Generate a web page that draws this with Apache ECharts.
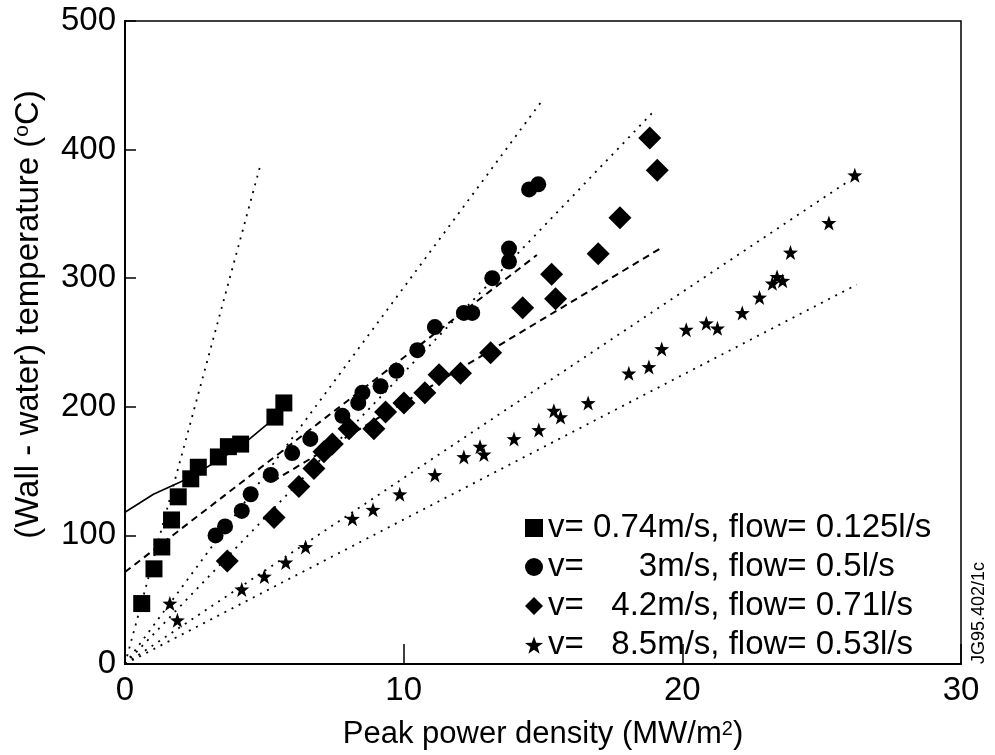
<!DOCTYPE html>
<html>
<head>
<meta charset="utf-8">
<script src="https://cdn.jsdelivr.net/npm/echarts@6/dist/echarts.min.js"></script>
<style>
  html, body { margin: 0; padding: 0; background: #fff; }
  #chart { width: 995px; height: 755px; }
</style>
</head>
<body>
<div id="chart"></div>
<script>
// measured points [power density, temperature]
var squarePts = [[0.60, 47], [1.04, 74], [1.32, 91], [1.67, 112], [1.91, 130], [2.36, 144],
  [2.63, 153], [3.35, 161], [3.71, 169], [4.15, 171], [5.38, 192], [5.70, 203]];
var circlePts = [[3.25, 100], [3.59, 107], [4.19, 119], [4.51, 132], [5.23, 147], [6.00, 164],
  [6.65, 175], [7.80, 193], [8.37, 203], [8.52, 211], [9.17, 216], [9.74, 228], [10.49, 244],
  [11.12, 262], [12.16, 273], [12.46, 273], [13.18, 300], [13.78, 313], [13.78, 323],
  [14.50, 369], [14.83, 373]];
var diamondPts = [[3.67, 80], [5.35, 114], [6.24, 138], [6.78, 152], [7.14, 165], [7.44, 171],
  [8.04, 183], [8.93, 183], [9.35, 196], [10.01, 203], [10.76, 211], [11.27, 225], [12.04, 226],
  [13.12, 242], [14.27, 277], [15.31, 303], [15.45, 284], [16.98, 319], [17.76, 347],
  [18.83, 409], [19.10, 384]];
var starPts = [[1.61, 47], [1.88, 34], [4.19, 58], [5.00, 68], [5.77, 79], [6.48, 91],
  [8.16, 113], [8.90, 120], [9.86, 132], [11.12, 147], [12.16, 161], [12.74, 169], [12.88, 163],
  [13.96, 175], [14.85, 182], [15.39, 197], [15.63, 192], [16.62, 203], [18.08, 226],
  [18.80, 231], [19.26, 245], [20.14, 260], [20.86, 265], [21.26, 261], [22.15, 273],
  [22.77, 285], [23.23, 296], [23.40, 301], [23.60, 298], [23.88, 320], [25.26, 343], [26.19, 380]];

// fitted curves
var squareFit = [[0, 118], [1.02, 132], [2.34, 145], [4.14, 169], [5.58, 195]];
var circleFit = [[0, 71.5], [14.78, 318]];
var diamondFit = [[5.3, 142], [19.2, 323]];
var dotLines = [
  [[0, 0], [4.86, 388]],
  [[0, 0], [14.93, 437]],
  [[0, 0], [19.03, 431]],
  [[0, 0], [26.0, 376]],
  [[0, 0], [26.26, 295]]
];

var names = ['v= 0.74m/s, flow= 0.125l/s', 'v=      3m/s, flow= 0.5l/s',
  'v=   4.2m/s, flow= 0.71l/s', 'v=   8.5m/s, flow= 0.53l/s'];
var xTicks = [0, 10, 20, 30];
var yTicks = [0, 100, 200, 300, 400, 500];

var FONT = 'Liberation Sans';
var starPath = 'path://M50,0 L62,34 L98,35 L69,57 L80,92 L50,71 L20,92 L31,57 L2,35 L38,34 Z';

var chart = echarts.init(document.getElementById('chart'));

var series = [
  { name: names[0], type: 'scatter', data: squarePts, symbol: 'rect', symbolSize: 17 },
  { name: names[1], type: 'scatter', data: circlePts, symbol: 'circle', symbolSize: 16 },
  { name: names[2], type: 'scatter', data: diamondPts, symbol: 'diamond', symbolSize: 23 },
  { name: names[3], type: 'scatter', data: starPts, symbol: starPath, symbolSize: 15 }
].map(function (s) {
  s.itemStyle = { color: '#000', opacity: 1 };
  s.z = 3;
  return s;
});

function fitLine(data, type, width) {
  return {
    type: 'line', data: data, showSymbol: false, silent: true, z: 2,
    lineStyle: { color: '#000', width: width, type: type }
  };
}
series.push(fitLine(squareFit, 'solid', 1.6));
series.push(fitLine(circleFit, [7, 5], 2));
series.push(fitLine(diamondFit, [7, 5], 2));
dotLines.forEach(function (d) {
  series.push(fitLine(d, [2, 6], 1.8));
});

var option = {
  animation: false,
  textStyle: { fontFamily: FONT, color: '#000' },
  grid: { left: 125, right: 34, top: 21, bottom: 78, show: true, borderColor: '#000', borderWidth: 1.5 },
  xAxis: {
    type: 'value', min: 0, max: 30, interval: 10,
    name: '{a|Peak power density (MW/m}{s|2}{a|)}',
    nameLocation: 'middle', nameGap: 55,
    nameTextStyle: {
      rich: {
        a: { fontSize: 31, fontFamily: FONT, color: '#000' },
        s: { fontSize: 20, fontFamily: FONT, color: '#000', verticalAlign: 'top' }
      }
    },
    axisLine: { lineStyle: { color: '#000', width: 2 } },
    axisTick: { inside: true, length: 20, lineStyle: { color: '#000', width: 1.5 } },
    axisLabel: {
      fontSize: 33, color: '#000', fontFamily: FONT, margin: 10,
      formatter: function (v) { return xTicks.indexOf(v) >= 0 ? String(v) : ''; }
    },
    splitLine: { show: false }
  },
  yAxis: {
    type: 'value', min: 0, max: 500, interval: 100,
    name: '{a|(Wall - water) temperature (}{s|o}{a|C)}',
    nameLocation: 'middle', nameGap: 80, nameRotate: 90,
    nameTextStyle: {
      padding: [0, 0, 0, 56],
      rich: {
        a: { fontSize: 33, fontFamily: FONT, color: '#000' },
        s: { fontSize: 21, fontFamily: FONT, color: '#000', verticalAlign: 'top' }
      }
    },
    axisLine: { lineStyle: { color: '#000', width: 2 } },
    axisTick: { inside: true, length: 11, lineStyle: { color: '#000', width: 1.5 } },
    axisLabel: {
      fontSize: 33, color: '#000', fontFamily: FONT, margin: 9,
      formatter: function (v) { return yTicks.indexOf(v) >= 0 ? String(v) : ''; }
    },
    splitLine: { show: false }
  },
  legend: {
    data: names,
    orient: 'vertical',
    left: 520, top: 505,
    itemWidth: 18, itemHeight: 18, itemGap: 3,
    selectedMode: false,
    textStyle: { fontSize: 33, fontFamily: FONT, color: '#000', lineHeight: 36 }
  },
  graphic: [{
    type: 'text', left: 970, top: 562, rotation: Math.PI / 2,
    style: { text: 'JG95.402/1c', fontSize: 18, fontFamily: FONT, fill: '#000' }
  }],
  series: series
};

chart.setOption(option);
</script>
</body>
</html>
